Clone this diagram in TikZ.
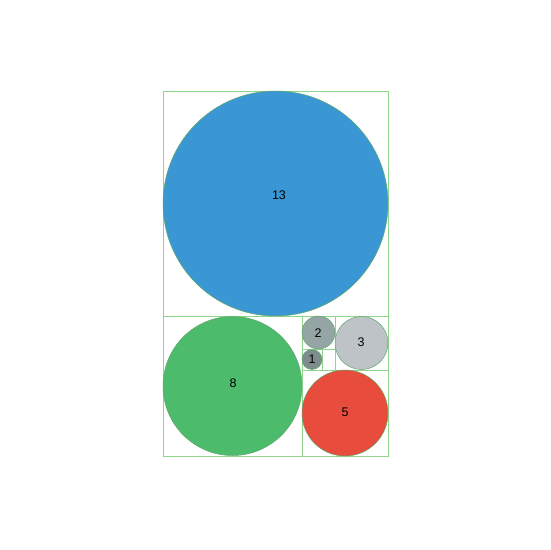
\documentclass[tikz,border=0pt]{standalone}
\usepackage{fontspec}
\setmainfont{Liberation Sans}
\definecolor{cblue}{HTML}{3A97D3}
\definecolor{cgreen}{HTML}{4DBB6C}
\definecolor{cred}{HTML}{E74C3C}
\definecolor{cgrayA}{HTML}{BDC3C7}
\definecolor{cgrayB}{HTML}{95A5A6}
\definecolor{cgrayC}{HTML}{7F8C8D}
\definecolor{gridline}{HTML}{8ED48A}
\definecolor{rim}{HTML}{5FA86A}
\begin{document}
\begin{tikzpicture}[x=1pt,y=-1pt,
  sq/.style={draw=gridline,line width=0.8pt},
  disc/.style={circle,draw=rim,line width=0.5pt,inner sep=0pt},
  lbl/.style={inner sep=0pt,font=\fontsize{12.5}{14}\selectfont,text=black}]
\useasboundingbox (0,0) rectangle (550,550);
% grid of squares
\draw[sq] (163,91) rectangle (388,456);
\draw[sq] (163,316) -- (388,316);
\draw[sq] (302,316) -- (302,456);
\draw[sq] (302,370) -- (388,370);
\draw[sq] (335,316) -- (335,370);
\draw[sq] (302,349) -- (335,349);
\draw[sq] (322,349) -- (322,370);
% circles
\node[disc,fill=cblue,minimum size=225pt] (c13) at (275.5,203.5) {};
\node[lbl] at (279,195) (l13) {13};
\node[disc,fill=cgreen,minimum size=139pt] (c8) at (232.5,386) {};
\node[lbl] at (233,383) (l8) {8};
\node[disc,fill=cred,minimum size=86pt] (c5) at (345,413) {};
\node[lbl] at (345,412) (l5) {5};
\node[disc,fill=cgrayA,minimum size=53pt] (c3) at (361.5,343) {};
\node[lbl] at (361,342) (l3) {3};
\node[disc,fill=cgrayB,minimum size=33pt] (c2) at (318.5,332.5) {};
\node[lbl] at (318,333) (l2) {2};
\node[disc,fill=cgrayC,minimum size=20pt] (c1) at (312,359.5) {};
\node[lbl] at (312,359) (l1) {1};
\end{tikzpicture}
\end{document}
